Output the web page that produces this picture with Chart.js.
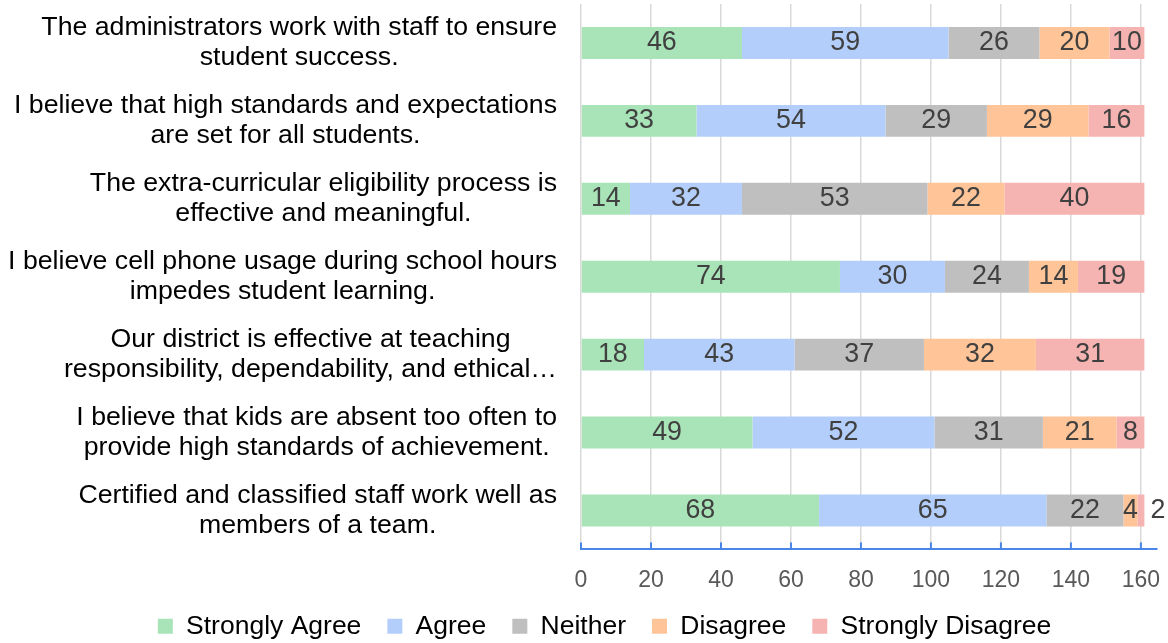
<!DOCTYPE html>
<html>
<head>
<meta charset="utf-8">
<script src="https://cdn.jsdelivr.net/npm/chart.js@4"></script>
<style>
  html, body { margin: 0; padding: 0; background: #fff; }
  #wrap { width: 1168px; height: 643px; }
</style>
</head>
<body>
<div id="wrap"><canvas id="survey-chart"></canvas></div>
<script>
const questions = [
  ["The administrators work with staff to ensure", "student success."],
  ["I believe that high standards and expectations", "are set for all students."],
  ["The extra-curricular eligibility process is", "effective and meaningful."],
  ["I believe cell phone usage during school hours", "impedes student learning."],
  ["Our district is effective at teaching", "responsibility, dependability, and ethical\u2026"],
  ["I believe that kids are absent too often to", "provide high standards of achievement."],
  ["Certified and classified staff work well as", "members of a team."]
];
const strongAgree = [46, 33, 14, 74, 18, 49, 68];
const agree = [59, 54, 32, 30, 43, 52, 65];
const neither = [26, 29, 53, 24, 37, 31, 22];
const disagree = [20, 29, 22, 14, 32, 21, 4];
const strongDisagree = [10, 16, 40, 19, 31, 8, 2];
const xTicks = [0, 20, 40, 60, 80, 100, 120, 140, 160];

const FONT = "'Liberation Sans', Arial, sans-serif";

// value labels inside each segment (or just past the bar end when too small)
const valueLabels = {
  id: "valueLabels",
  afterDatasetsDraw(chart) {
    const ctx = chart.ctx;
    ctx.save();
    ctx.font = "26.8px " + FONT;
    ctx.fillStyle = "#404040";
    ctx.textBaseline = "middle";
    chart.data.datasets.forEach((ds, i) => {
      const meta = chart.getDatasetMeta(i);
      meta.data.forEach((bar, j) => {
        const txt = String(ds.data[j]);
        const w = ctx.measureText(txt).width;
        const segW = Math.abs(bar.x - bar.base);
        if (w > segW * 1.5) {
          ctx.textAlign = "left";
          ctx.fillText(txt, bar.x + 6, bar.y);
        } else {
          ctx.textAlign = "center";
          ctx.fillText(txt, (bar.x + bar.base) / 2, bar.y);
        }
      });
    });
    ctx.restore();
  }
};

// category labels: each block right aligned to the axis, lines centred in the block
const questionLabels = {
  id: "questionLabels",
  afterDraw(chart) {
    const ctx = chart.ctx, yScale = chart.scales.y;
    const right = 557, lineH = 30;
    ctx.save();
    ctx.font = "26.7px " + FONT;
    ctx.fillStyle = "#000";
    ctx.textAlign = "center";
    ctx.textBaseline = "middle";
    chart.data.labels.forEach((lines, i) => {
      const y = yScale.getPixelForValue(i);
      const blockW = Math.max(...lines.map(l => ctx.measureText(l).width));
      const cx = right - blockW / 2;
      lines.forEach((l, k) => {
        ctx.fillText(l, cx, y + (k - (lines.length - 1) / 2) * lineH);
      });
    });
    ctx.restore();
  }
};

// little blue tick marks standing on the x axis line
const axisTicks = {
  id: "axisTicks",
  afterDraw(chart) {
    const ctx = chart.ctx, xScale = chart.scales.x;
    const bottom = chart.chartArea.bottom;
    ctx.save();
    ctx.strokeStyle = "#4A86E8";
    ctx.lineWidth = 2;
    xTicks.forEach(v => {
      const x = xScale.getPixelForValue(v);
      ctx.beginPath();
      ctx.moveTo(x, bottom - 7);
      ctx.lineTo(x, bottom);
      ctx.stroke();
    });
    ctx.restore();
  }
};

// squeeze the legend so the plot reaches further down, and nudge it into place
const legendFit = {
  id: "legendFit",
  beforeInit(chart) {
    const orig = chart.legend.fit;
    chart.legend.fit = function () {
      orig.call(this);
      this.height = 32;
    };
  },
  afterLayout(chart) {
    const lg = chart.legend;
    lg.left += 26;
    lg.right += 26;
    lg.top -= 24;
    lg.height = lg.bottom - lg.top;
  }
};

function series(label, data, color) {
  return {
    label: label,
    data: data,
    backgroundColor: color,
    borderWidth: 0,
    categoryPercentage: 1,
    barPercentage: 0.41
  };
}

new Chart(document.getElementById("survey-chart"), {
  type: "bar",
  data: {
    labels: questions,
    datasets: [
      series("Strongly Agree", strongAgree, "#A8E4B8"),
      series("Agree", agree, "#B3CEFA"),
      series("Neither", neither, "#BFBFBF"),
      series("Disagree", disagree, "#FFC497"),
      series("Strongly Disagree", strongDisagree, "#F5B3B1")
    ]
  },
  options: {
    indexAxis: "y",
    responsive: true,
    maintainAspectRatio: false,
    animation: false,
    layout: { padding: { top: 4, right: 11, left: 0, bottom: 0 } },
    scales: {
      x: {
        stacked: true,
        min: 0,
        max: 164.6,
        afterBuildTicks: (s) => { s.ticks = xTicks.map(v => ({ value: v })); },
        afterFit: (s) => { s.paddingLeft = 0; s.paddingRight = 0; },
        grid: { color: "#D9D9D9", lineWidth: 1.5, drawTicks: false },
        border: { display: true, color: "#4A86E8", width: 2 },
        ticks: { color: "#595959", font: { size: 23, family: FONT }, padding: 17 }
      },
      y: {
        stacked: true,
        grid: { display: false },
        border: { display: false },
        ticks: { display: false },
        afterFit: (s) => { s.width = 581; }
      }
    },
    plugins: {
      legend: {
        position: "bottom",
        labels: {
          boxWidth: 15,
          boxHeight: 15,
          color: "#000",
          padding: 26,
          font: { size: 26.5, family: FONT }
        }
      },
      tooltip: { enabled: false }
    }
  },
  plugins: [valueLabels, questionLabels, axisTicks, legendFit]
});
</script>
</body>
</html>
